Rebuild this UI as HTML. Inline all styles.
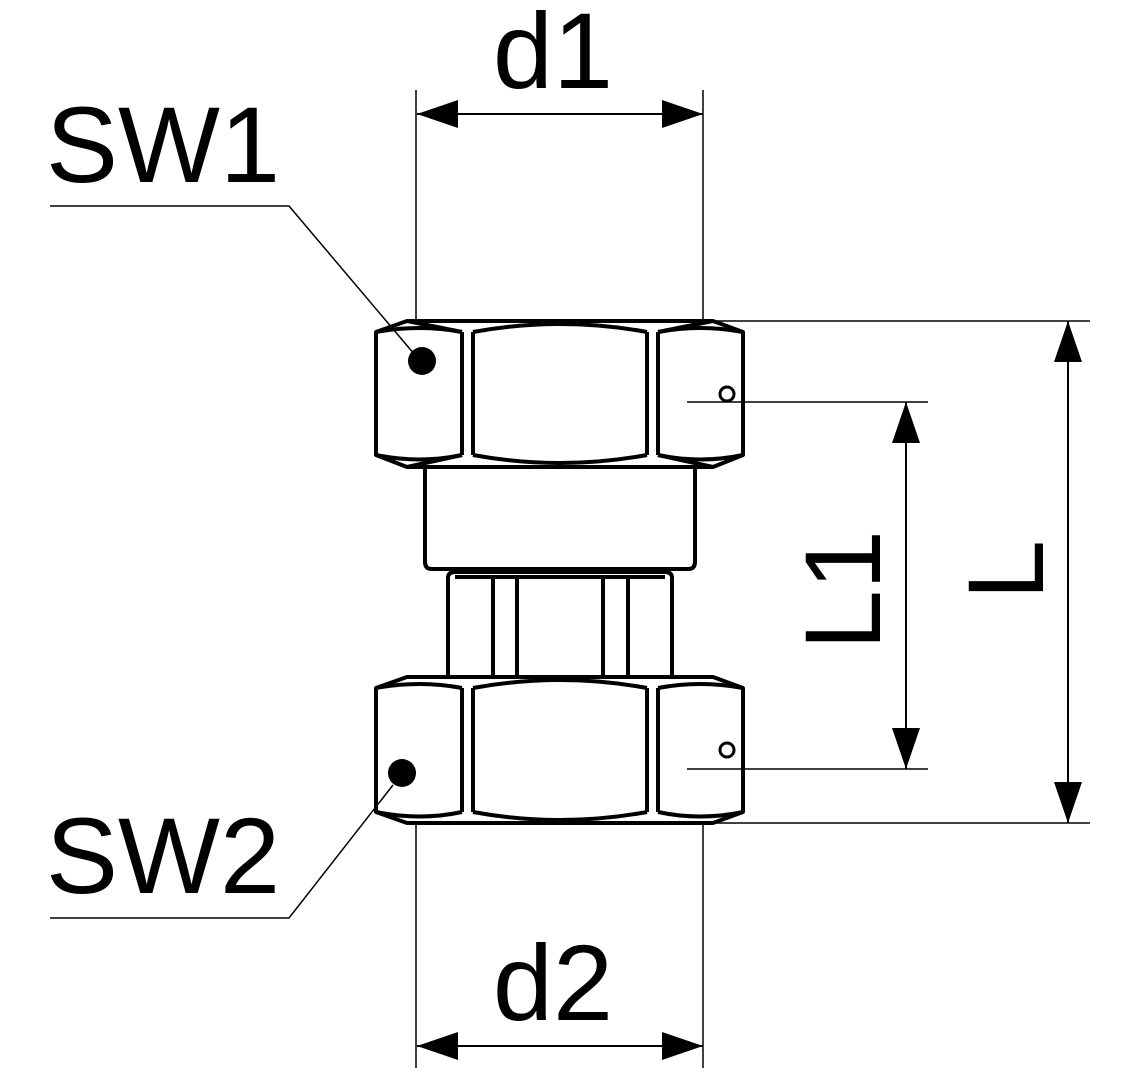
<!DOCTYPE html>
<html><head><meta charset="utf-8"><style>html,body{margin:0;padding:0;background:#fff}svg{display:block}</style></head>
<body>
<svg width="1134" height="1080" viewBox="0 0 1134 1080" xmlns="http://www.w3.org/2000/svg">
<g fill="none" stroke="#000" stroke-width="1.5">
  <!-- extension lines -->
  <line x1="416" y1="90" x2="416" y2="320"/>
  <line x1="703" y1="90" x2="703" y2="320"/>
  <line x1="416" y1="825" x2="416" y2="1068"/>
  <line x1="703" y1="825" x2="703" y2="1068"/>
  <line x1="713" y1="321" x2="1090" y2="321"/>
  <line x1="713" y1="823" x2="1090" y2="823"/>
  <line x1="687" y1="402" x2="928" y2="402"/>
  <line x1="687" y1="769" x2="928" y2="769"/>
  <!-- dim lines -->
  <line x1="417" y1="114" x2="703" y2="114" stroke-width="2"/>
  <line x1="417" y1="1046" x2="703" y2="1046" stroke-width="2"/>
  <line x1="1068" y1="321" x2="1068" y2="823" stroke-width="2"/>
  <line x1="906" y1="402" x2="906" y2="769" stroke-width="2"/>
  <!-- leaders -->
  <polyline points="50,206 289,206 415,355"/>
  <polyline points="50,918 289,918 393,785"/>
</g>
<g fill="#000">
  <polygon points="417,114 458,100 458,128"/>
  <polygon points="703,114 662,100 662,128"/>
  <polygon points="417,1046 458,1032 458,1060"/>
  <polygon points="703,1046 662,1032 662,1060"/>
  <polygon points="1068,321 1054,362 1082,362"/>
  <polygon points="1068,823 1054,782 1082,782"/>
  <polygon points="906,402 892,443 920,443"/>
  <polygon points="906,769 892,728 920,728"/>
  <circle cx="422" cy="361" r="14"/>
  <circle cx="402" cy="773" r="14"/>
</g>
<g fill="none" stroke="#000" stroke-width="4" stroke-linejoin="round">
  <!-- top nut -->
  <path d="M376,332 L407,321 L713,321 L743,332 L743,455 L713,467 L407,467 L376,455 Z"/>
  <path d="M376,332 Q420,324 462,332"/>
  <path d="M376,455 Q420,464 462,455"/>
  <path d="M658,332 Q700,324 743,332"/>
  <path d="M658,455 Q700,464 743,455"/>
  <path d="M473,332 Q560,316 647,332"/>
  <path d="M473,455 Q560,471 647,455"/>
  <line x1="462" y1="332" x2="462" y2="455"/>
  <line x1="473" y1="332" x2="473" y2="455"/>
  <line x1="647" y1="332" x2="647" y2="455"/>
  <line x1="658" y1="332" x2="658" y2="455"/>
  <line x1="407" y1="321" x2="462" y2="332"/>
  <line x1="713" y1="321" x2="658" y2="332"/>
  <line x1="407" y1="467" x2="462" y2="455"/>
  <line x1="713" y1="467" x2="658" y2="455"/>
  <!-- body -->
  <path d="M425,467 L425,562 Q425,569 432,569 L688,569 Q695,569 695,562 L695,467"/>
  <!-- neck -->
  <path d="M448,677 L448,578 Q448,572 455,572 L665,572 Q672,572 672,578 L672,677"/>
  <line x1="493" y1="577" x2="493" y2="677"/>
  <line x1="517" y1="577" x2="517" y2="677"/>
  <line x1="603" y1="577" x2="603" y2="677"/>
  <line x1="628" y1="577" x2="628" y2="677"/>
  <line x1="455" y1="577" x2="665" y2="577"/>
  <!-- bottom nut -->
  <path d="M376,688 L407,677 L713,677 L743,688 L743,812 L713,823 L407,823 L376,812 Z"/>
  <path d="M376,688 Q420,680 462,688"/>
  <path d="M376,812 Q420,821 462,812"/>
  <path d="M658,688 Q700,680 743,688"/>
  <path d="M658,812 Q700,821 743,812"/>
  <path d="M473,688 Q560,672 647,688"/>
  <path d="M473,812 Q560,828 647,812"/>
  <line x1="462" y1="688" x2="462" y2="812"/>
  <line x1="473" y1="688" x2="473" y2="812"/>
  <line x1="647" y1="688" x2="647" y2="812"/>
  <line x1="658" y1="688" x2="658" y2="812"/>
</g>
<g fill="none" stroke="#000" stroke-width="3">
  <circle cx="727" cy="394" r="7"/>
  <circle cx="727" cy="750" r="7"/>
</g>
<g font-family="'Liberation Sans', sans-serif" font-size="108" fill="#000">
  <text x="553" y="88" text-anchor="middle">d1</text>
  <text x="553" y="1020" text-anchor="middle">d2</text>
  <text x="46" y="182">SW1</text>
  <text x="46" y="893">SW2</text>
  <text transform="translate(880,590) rotate(-90)" text-anchor="middle">L1</text>
  <text transform="translate(1043,570) rotate(-90)" text-anchor="middle">L</text>
</g>
</svg>
</body></html>
